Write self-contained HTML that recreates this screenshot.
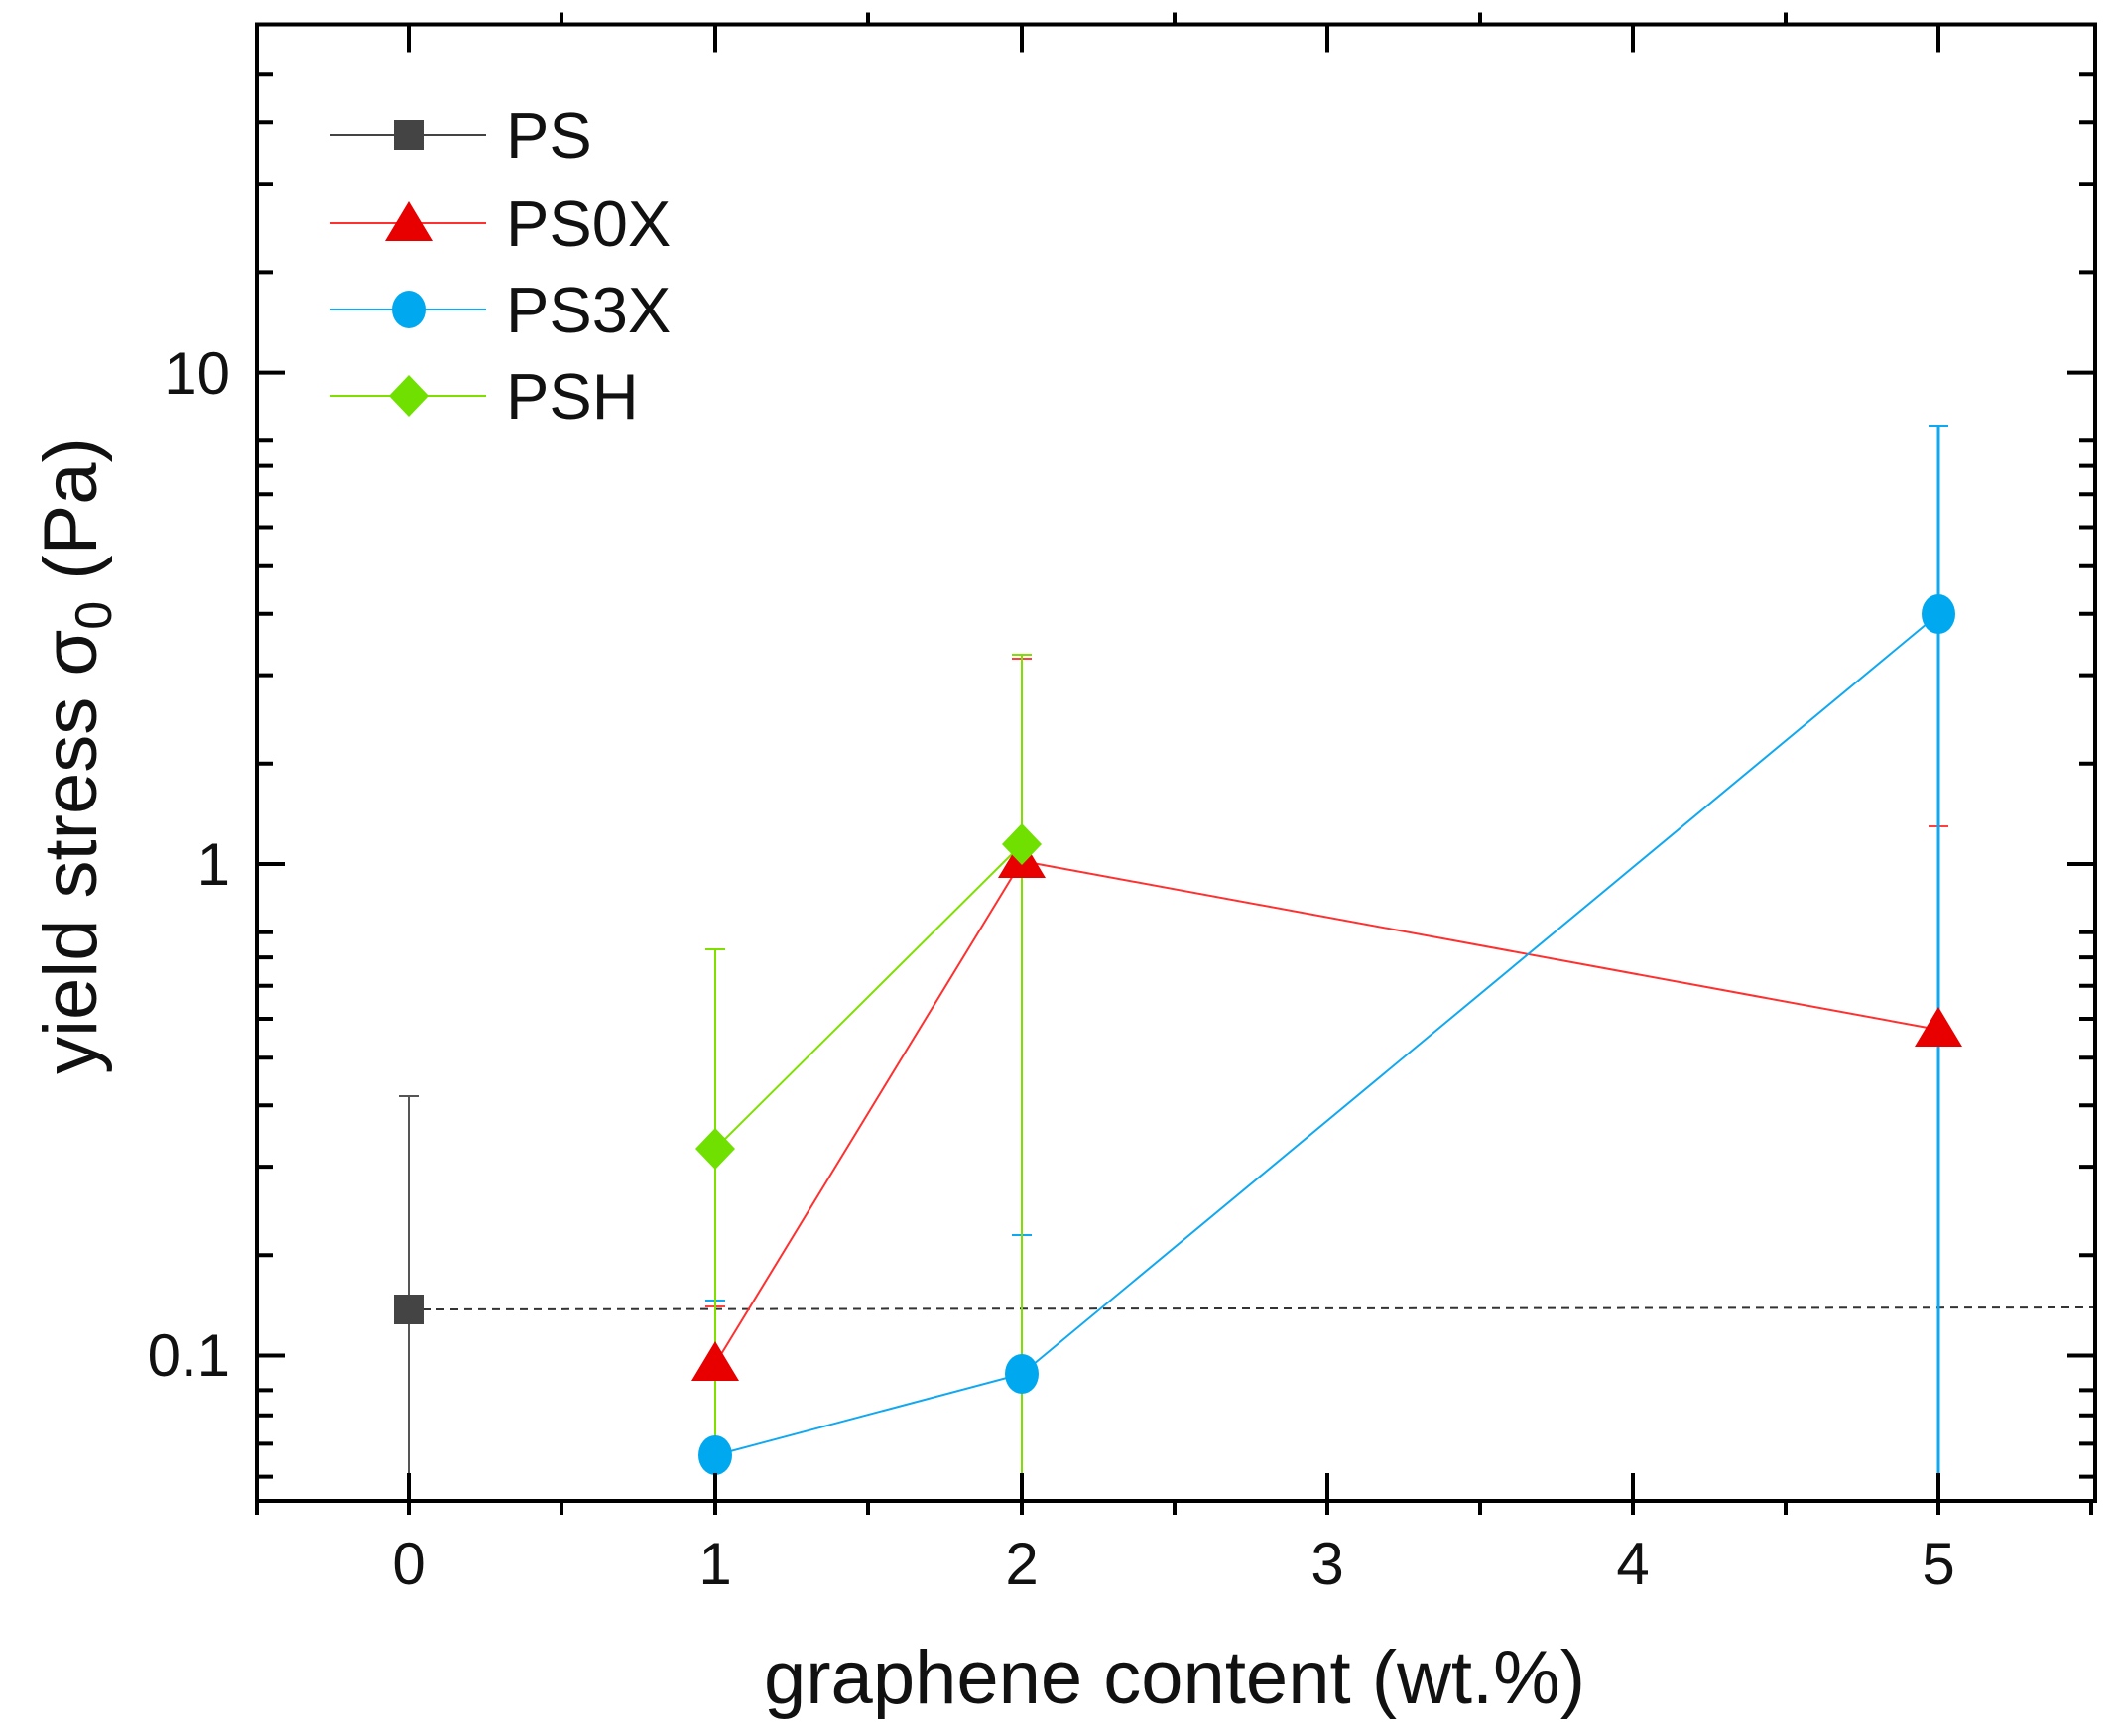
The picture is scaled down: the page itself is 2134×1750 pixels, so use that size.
<!DOCTYPE html>
<html><head><meta charset="utf-8"><style>html,body{margin:0;padding:0;background:#fff}svg{display:block}</style></head>
<body>
<svg width="2134" height="1750" viewBox="0 0 2134 1750" xmlns="http://www.w3.org/2000/svg" font-family="Liberation Sans, sans-serif">
<rect width="2134" height="1750" fill="#fff"/>
<line x1="412" y1="1320" x2="2112" y2="1318" stroke="#333" stroke-width="2" stroke-dasharray="8,6"/>
<g stroke-width="2" fill="none">
<path d="M412 1105V1513M402 1105H422" stroke="#555"/>
<path d="M721 1317V1513M711 1317H731M1030 664V1513M1020 664H1040M1954 833V1513M1944 833H1964" stroke="#ff4040"/>
<path d="M711 1311H731M1030 1245V1513M1020 1245H1040M1944 429H1964" stroke="#10a8f0"/>
<path d="M721 957V1513M711 957H731M1030 660V1513M1020 660H1040" stroke="#7fe000"/>
<path d="M1954 429V1513" stroke="#10a8f0" stroke-width="3"/>
</g>
<polyline points="721,1158 1030,851" stroke="#7fe000" stroke-width="2" fill="none"/>
<polyline points="721,1375 1030,868 1954,1038" stroke="#ff3030" stroke-width="2" fill="none"/>
<polyline points="721,1467 1030,1385 1954,619" stroke="#10a8f0" stroke-width="2" fill="none"/>
<rect x="397" y="1305" width="30" height="30" fill="#444"/>
<path d="M721 1352L745 1392H697Z M1030 845L1054 885H1006Z M1954 1015L1978 1055H1930Z" fill="#e80000"/>
<ellipse cx="721" cy="1467" rx="17" ry="20" fill="#00a8f0"/>
<ellipse cx="1030" cy="1385" rx="17" ry="20" fill="#00a8f0"/>
<ellipse cx="1954" cy="619" rx="17" ry="20" fill="#00a8f0"/>
<path d="M721 1137L741 1158L721 1179L701 1158Z M1030 830L1050 851L1030 872L1010 851Z" fill="#70e000"/>
<rect x="259" y="24.5" width="1853" height="1488.5" fill="none" stroke="#000" stroke-width="4"/>
<g stroke="#000" stroke-width="4">
<path d="M412 1513v-28M721 1513v-28M1030 1513v-28M1338 1513v-28M1646 1513v-28M1954 1513v-28
M412 1513v14M721 1513v14M1030 1513v14M1338 1513v14M1646 1513v14M1954 1513v14
M259 1513v14M566 1513v14M875 1513v14M1184 1513v14M1492 1513v14M1800 1513v14M2108 1513v14
M412 24.5v28M721 24.5v28M1030 24.5v28M1338 24.5v28M1646 24.5v28M1954 24.5v28
M566 24.5v-12M875 24.5v-12M1184 24.5v-12M1492 24.5v-12M1800 24.5v-12
M259 375.6h28M259 871h28M259 1366.5h28M2112 375.6h-28M2112 871h-28M2112 1366.5h-28"/>
<path d="M259 1265.2h16M259 1176.1h16M259 1114.3h16M259 1066.3h16M259 1027h16M259 993.8h16M259 965.1h16M259 939.8h16
M259 769.7h16M259 680.6h16M259 618.7h16M259 570.7h16M259 531.5h16M259 498.3h16M259 469.6h16M259 444.3h16
M259 274.4h16M259 185.2h16M259 123.3h16M259 75.3h16
M259 1488.6h16M259 1455.4h16M259 1426.7h16M259 1401.4h16
M2112 1265.2h-16M2112 1176.1h-16M2112 1114.3h-16M2112 1066.3h-16M2112 1027h-16M2112 993.8h-16M2112 965.1h-16M2112 939.8h-16
M2112 769.7h-16M2112 680.6h-16M2112 618.7h-16M2112 570.7h-16M2112 531.5h-16M2112 498.3h-16M2112 469.6h-16M2112 444.3h-16
M2112 274.4h-16M2112 185.2h-16M2112 123.3h-16M2112 75.3h-16
M2112 1488.6h-16M2112 1455.4h-16M2112 1426.7h-16M2112 1401.4h-16"/>
</g>
<g font-size="60" fill="#111" text-anchor="middle">
<text x="412" y="1597">0</text><text x="721" y="1597">1</text><text x="1030" y="1597">2</text>
<text x="1338" y="1597">3</text><text x="1646" y="1597">4</text><text x="1954" y="1597">5</text>
</g>
<g font-size="60" fill="#111" text-anchor="end">
<text x="232" y="397">10</text><text x="232" y="892">1</text><text x="232" y="1387">0.1</text>
</g>
<text x="1184" y="1717" font-size="76" text-anchor="middle" fill="#111">graphene content (wt.%)</text>
<text transform="translate(97,762) rotate(-90)" font-size="76" text-anchor="middle" fill="#111">yield stress σ<tspan font-size="52" dy="15">0</tspan><tspan dy="-15"> (Pa)</tspan></text>
<g stroke-width="2">
<line x1="333" y1="136" x2="490" y2="136" stroke="#444"/>
<line x1="333" y1="225" x2="490" y2="225" stroke="#ff3030"/>
<line x1="333" y1="312" x2="490" y2="312" stroke="#10a8f0"/>
<line x1="333" y1="399" x2="490" y2="399" stroke="#7fe000"/>
</g>
<rect x="397" y="121" width="30" height="30" fill="#444"/>
<path d="M412 203L436 243H388Z" fill="#e80000"/>
<ellipse cx="412" cy="312" rx="17" ry="19" fill="#00a8f0"/>
<path d="M412 378L432 399L412 420L392 399Z" fill="#70e000"/>
<g font-size="65" fill="#111">
<text x="510" y="159">PS</text><text x="510" y="248">PS0X</text><text x="510" y="335">PS3X</text><text x="510" y="422">PSH</text>
</g>
</svg>
</body></html>
